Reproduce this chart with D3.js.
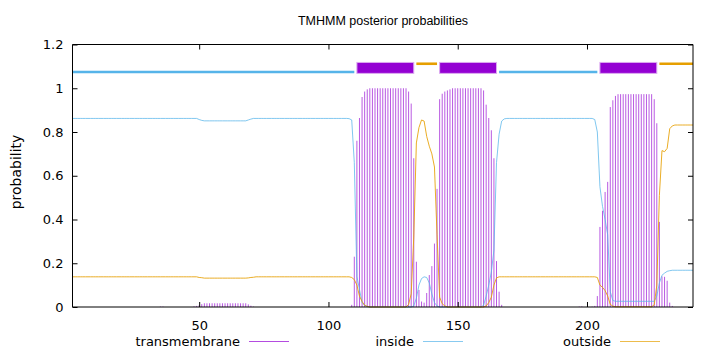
<!DOCTYPE html>
<html lang="en">
<head>
<meta charset="UTF-8">
<title>TMHMM posterior probabilities</title>
<script src="https://d3js.org/d3.v7.min.js"></script>
<style>
  body { margin: 0; background: #fff; }
  svg text { font-family: "DejaVu Sans", sans-serif; font-size: 13px; fill: #000; }
</style>
</head>
<body>
<svg id="chart" width="720" height="352"></svg>
<script>
// per-residue posterior probabilities, residues 1..241 (20 per row)
const tmProb = [
  0,0,0,0,0,0,0,0,0,0,0,0,0,0,0,0,0,0,0,0,
  0,0,0,0,0,0,0,0,0,0,0,0,0,0,0.002,0.002,0,0,0,0,
  0,0,0,0,0,0,0,0.003,0.005,0.008,0.013,0.017,0.017,0.017,0.017,0.017,0.017,0.017,0.017,0.017,
  0.017,0.017,0.017,0.017,0.017,0.017,0.017,0.017,0.012,0.006,0.002,0,0,0,0,0,0,0,0,0,
  0,0,0,0,0,0,0,0,0,0,0,0,0,0,0,0,0,0,0,0,
  0,0,0,0,0,0,0,0,0.01,0.23,0.76,0.864,0.96,0.985,0.995,1,1,1,1,1,
  1,1,1,1,1,1,1,1,1,1,0.985,0.93,0.68,0.207,0.078,0.025,0.02,0.064,0.146,0.187,
  0.29,0.54,0.95,0.975,0.985,0.99,0.995,1,1,1,1,1,1,1,1,1,1,1,1,0.99,
  0.925,0.864,0.808,0.68,0.21,0.07,0.01,0,0,0,0,0,0,0,0,0,0,0,0,0,
  0,0,0,0,0,0,0,0,0,0,0,0,0,0,0,0,0.002,0.003,0,0,
  0,0.002,0.005,0.05,0.366,0.44,0.526,0.572,0.914,0.945,0.965,0.973,0.973,0.973,0.973,0.973,0.973,0.973,0.973,0.973,
  0.973,0.973,0.973,0.973,0.973,0.95,0.84,0.389,0.14,0.138,0.12,0.02,0.005,0,0,0,0,0,0,0,
  0
];
const insideProb = [
  0.862,0.862,0.862,0.862,0.862,0.862,0.862,0.862,0.862,0.862,0.862,0.862,0.862,0.862,0.862,0.862,0.862,0.862,0.862,0.862,
  0.862,0.862,0.862,0.862,0.862,0.862,0.862,0.862,0.862,0.862,0.862,0.862,0.862,0.862,0.862,0.862,0.862,0.862,0.862,0.862,
  0.862,0.862,0.862,0.862,0.862,0.862,0.862,0.862,0.862,0.857,0.853,0.851,0.851,0.851,0.851,0.851,0.851,0.851,0.851,0.851,
  0.851,0.851,0.851,0.851,0.851,0.851,0.851,0.851,0.855,0.859,0.862,0.862,0.862,0.862,0.862,0.862,0.862,0.862,0.862,0.862,
  0.862,0.862,0.862,0.862,0.862,0.862,0.862,0.862,0.862,0.862,0.862,0.862,0.862,0.862,0.862,0.862,0.862,0.862,0.862,0.862,
  0.862,0.862,0.862,0.862,0.862,0.862,0.862,0.861,0.855,0.66,0.14,0.08,0.02,0.007,0.002,0,0,0,0,0,
  0,0,0,0,0,0,0,0,0,0,0,0,0.005,0.04,0.1,0.13,0.138,0.135,0.11,0.06,
  0.02,0.005,0,0,0,0,0,0,0,0,0,0,0,0,0,0,0,0,0,0.008,
  0.05,0.1,0.16,0.26,0.66,0.79,0.85,0.86,0.862,0.862,0.862,0.862,0.862,0.862,0.862,0.862,0.862,0.862,0.862,0.862,
  0.862,0.862,0.862,0.862,0.862,0.862,0.862,0.862,0.862,0.862,0.862,0.862,0.862,0.862,0.862,0.862,0.862,0.862,0.862,0.862,
  0.862,0.862,0.857,0.8,0.55,0.46,0.4,0.33,0.07,0.03,0.026,0.026,0.026,0.026,0.026,0.026,0.026,0.026,0.026,0.026,
  0.026,0.026,0.026,0.026,0.026,0.026,0.05,0.11,0.145,0.155,0.163,0.166,0.168,0.168,0.168,0.168,0.168,0.168,0.168,0.168,
  0.168
];
const outsideProb = [
  0.138,0.138,0.138,0.138,0.138,0.138,0.138,0.138,0.138,0.138,0.138,0.138,0.138,0.138,0.138,0.138,0.138,0.138,0.138,0.138,
  0.138,0.138,0.138,0.138,0.138,0.138,0.138,0.138,0.138,0.138,0.138,0.138,0.138,0.138,0.138,0.138,0.138,0.138,0.138,0.138,
  0.138,0.138,0.138,0.138,0.138,0.138,0.138,0.138,0.138,0.135,0.134,0.132,0.132,0.132,0.132,0.132,0.132,0.132,0.132,0.132,
  0.132,0.132,0.132,0.132,0.132,0.132,0.132,0.132,0.133,0.135,0.136,0.138,0.138,0.138,0.138,0.138,0.138,0.138,0.138,0.138,
  0.138,0.138,0.138,0.138,0.138,0.138,0.138,0.138,0.138,0.138,0.138,0.138,0.138,0.138,0.138,0.138,0.138,0.138,0.138,0.138,
  0.138,0.138,0.138,0.138,0.138,0.138,0.138,0.138,0.135,0.125,0.1,0.05,0.025,0.008,0.003,0,0,0,0,0,
  0,0,0,0,0,0,0,0,0,0,0.012,0.06,0.32,0.75,0.82,0.855,0.85,0.78,0.735,0.7,
  0.64,0.33,0.045,0.015,0.005,0,0,0,0,0,0,0,0,0,0,0,0,0,0,0,
  0.005,0.02,0.045,0.1,0.133,0.138,0.138,0.138,0.138,0.138,0.138,0.138,0.138,0.138,0.138,0.138,0.138,0.138,0.138,0.138,
  0.138,0.138,0.138,0.138,0.138,0.138,0.138,0.138,0.138,0.138,0.138,0.138,0.138,0.138,0.138,0.138,0.138,0.138,0.138,0.138,
  0.138,0.138,0.138,0.135,0.1,0.09,0.075,0.05,0.012,0.004,0.001,0.001,0.001,0.001,0.001,0.001,0.001,0.001,0.001,0.001,
  0.001,0.001,0.001,0.001,0.001,0.01,0.1,0.51,0.715,0.71,0.725,0.815,0.828,0.832,0.832,0.832,0.832,0.832,0.832,0.832,
  0.832
];

// predicted topology (residue ranges)
const segStart = [1, 111, 134, 143, 166, 205, 228];
const segEnd   = [110, 133, 142, 165, 204, 227, 241];
const segType  = ["inside", "TMhelix", "outside", "TMhelix", "inside", "TMhelix", "outside"];

const xTicks = [50, 100, 150, 200];
const yTicks = [0, 0.2, 0.4, 0.6, 0.8, 1, 1.2];
const legendNames = ["transmembrane", "inside", "outside"];

const colTM = "#9400d3", colIn = "#56b4e9", colOut = "#e69f00";

const svg = d3.select("#chart");
const x = d3.scaleLinear().domain([1, 241]).range([72.5, 693]);
const y = d3.scaleLinear().domain([0, 1.2]).range([307, 44.5]);

const residues = d3.range(1, tmProb.length + 1);

// transmembrane impulses
svg.append("g")
    .selectAll("line")
    .data(residues.filter(r => tmProb[r - 1] > 0))
    .enter().append("line")
    .attr("x1", r => x(r)).attr("x2", r => x(r))
    .attr("y1", y(0)).attr("y2", r => y(tmProb[r - 1]))
    .attr("stroke", colTM)
    .attr("stroke-opacity", 0.65)
    .attr("stroke-width", 1);

const line = d3.line().x(d => x(d[0])).y(d => y(d[1]));

svg.append("path")
    .attr("d", line(residues.map(r => [r, insideProb[r - 1]])))
    .attr("fill", "none").attr("stroke", colIn).attr("stroke-opacity", 0.75).attr("stroke-width", 1);

svg.append("path")
    .attr("d", line(residues.map(r => [r, outsideProb[r - 1]])))
    .attr("fill", "none").attr("stroke", colOut).attr("stroke-opacity", 0.85).attr("stroke-width", 1);

// topology bars on top
segType.forEach((t, i) => {
    if (t === "TMhelix") {
        svg.append("rect")
            .attr("x", x(segStart[i]))
            .attr("y", y(1.118))
            .attr("width", x(segEnd[i]) - x(segStart[i]))
            .attr("height", y(1.068) - y(1.118))
            .attr("fill", colTM)
            .attr("stroke", "#dcaaf0")
            .attr("stroke-width", 1);
    } else {
        const v = t === "inside" ? 1.074 : 1.112;
        svg.append("line")
            .attr("x1", x(segStart[i])).attr("x2", x(segEnd[i]))
            .attr("y1", y(v)).attr("y2", y(v))
            .attr("stroke", t === "inside" ? colIn : colOut)
            .attr("stroke-width", 2.6);
    }
});

// axes (ticks point inward, mirrored)
const fmt = d3.format("~g");
const font = "DejaVu Sans, sans-serif";
svg.append("g")
    .attr("transform", "translate(72.5,0)")
    .call(d3.axisLeft(y).tickValues(yTicks).tickSize(-5).tickPadding(9).tickFormat(fmt))
    .call(g => g.select(".domain").remove())
    .call(g => g.selectAll("text").style("font-size", "13px").style("font-family", font));
svg.append("g")
    .attr("transform", "translate(693,0)")
    .call(d3.axisRight(y).tickValues(yTicks).tickSize(-5).tickFormat(""))
    .call(g => g.select(".domain").remove());
svg.append("g")
    .attr("transform", "translate(0,307)")
    .call(d3.axisBottom(x).tickValues(xTicks).tickSize(-5).tickPadding(14).tickFormat(fmt))
    .call(g => g.select(".domain").remove())
    .call(g => g.selectAll("text").style("font-size", "13px").style("font-family", font));
svg.append("g")
    .attr("transform", "translate(0,44.5)")
    .call(d3.axisTop(x).tickValues(xTicks).tickSize(-5).tickFormat(""))
    .call(g => g.select(".domain").remove());

// frame
svg.append("path")
    .attr("d", `M72.5,44.5H693V307H72.5Z`)
    .attr("fill", "none").attr("stroke", "#000").attr("stroke-width", 1);

// title and labels
svg.append("text").attr("x", 383).attr("y", 25).attr("text-anchor", "middle")
    .style("font-family", "Liberation Sans, Arial, sans-serif")
    .style("font-size", "12.5px")
    .text("TMHMM posterior probabilities");
svg.append("text").attr("transform", "translate(21,172) rotate(-90)").attr("text-anchor", "middle")
    .style("font-size", "14px")
    .text("probability");

// legend below
const legendTextEnd = [240, 414, 611];
const legendColors = [colTM, colIn, colOut];
legendNames.forEach((name, i) => {
    svg.append("text").attr("x", legendTextEnd[i]).attr("y", 346).attr("text-anchor", "end").text(name);
    svg.append("line")
        .attr("x1", legendTextEnd[i] + 9).attr("x2", legendTextEnd[i] + 49)
        .attr("y1", 341.5).attr("y2", 341.5)
        .attr("stroke", legendColors[i]).attr("stroke-opacity", 0.7).attr("stroke-width", 1);
});
</script>
</body>
</html>
